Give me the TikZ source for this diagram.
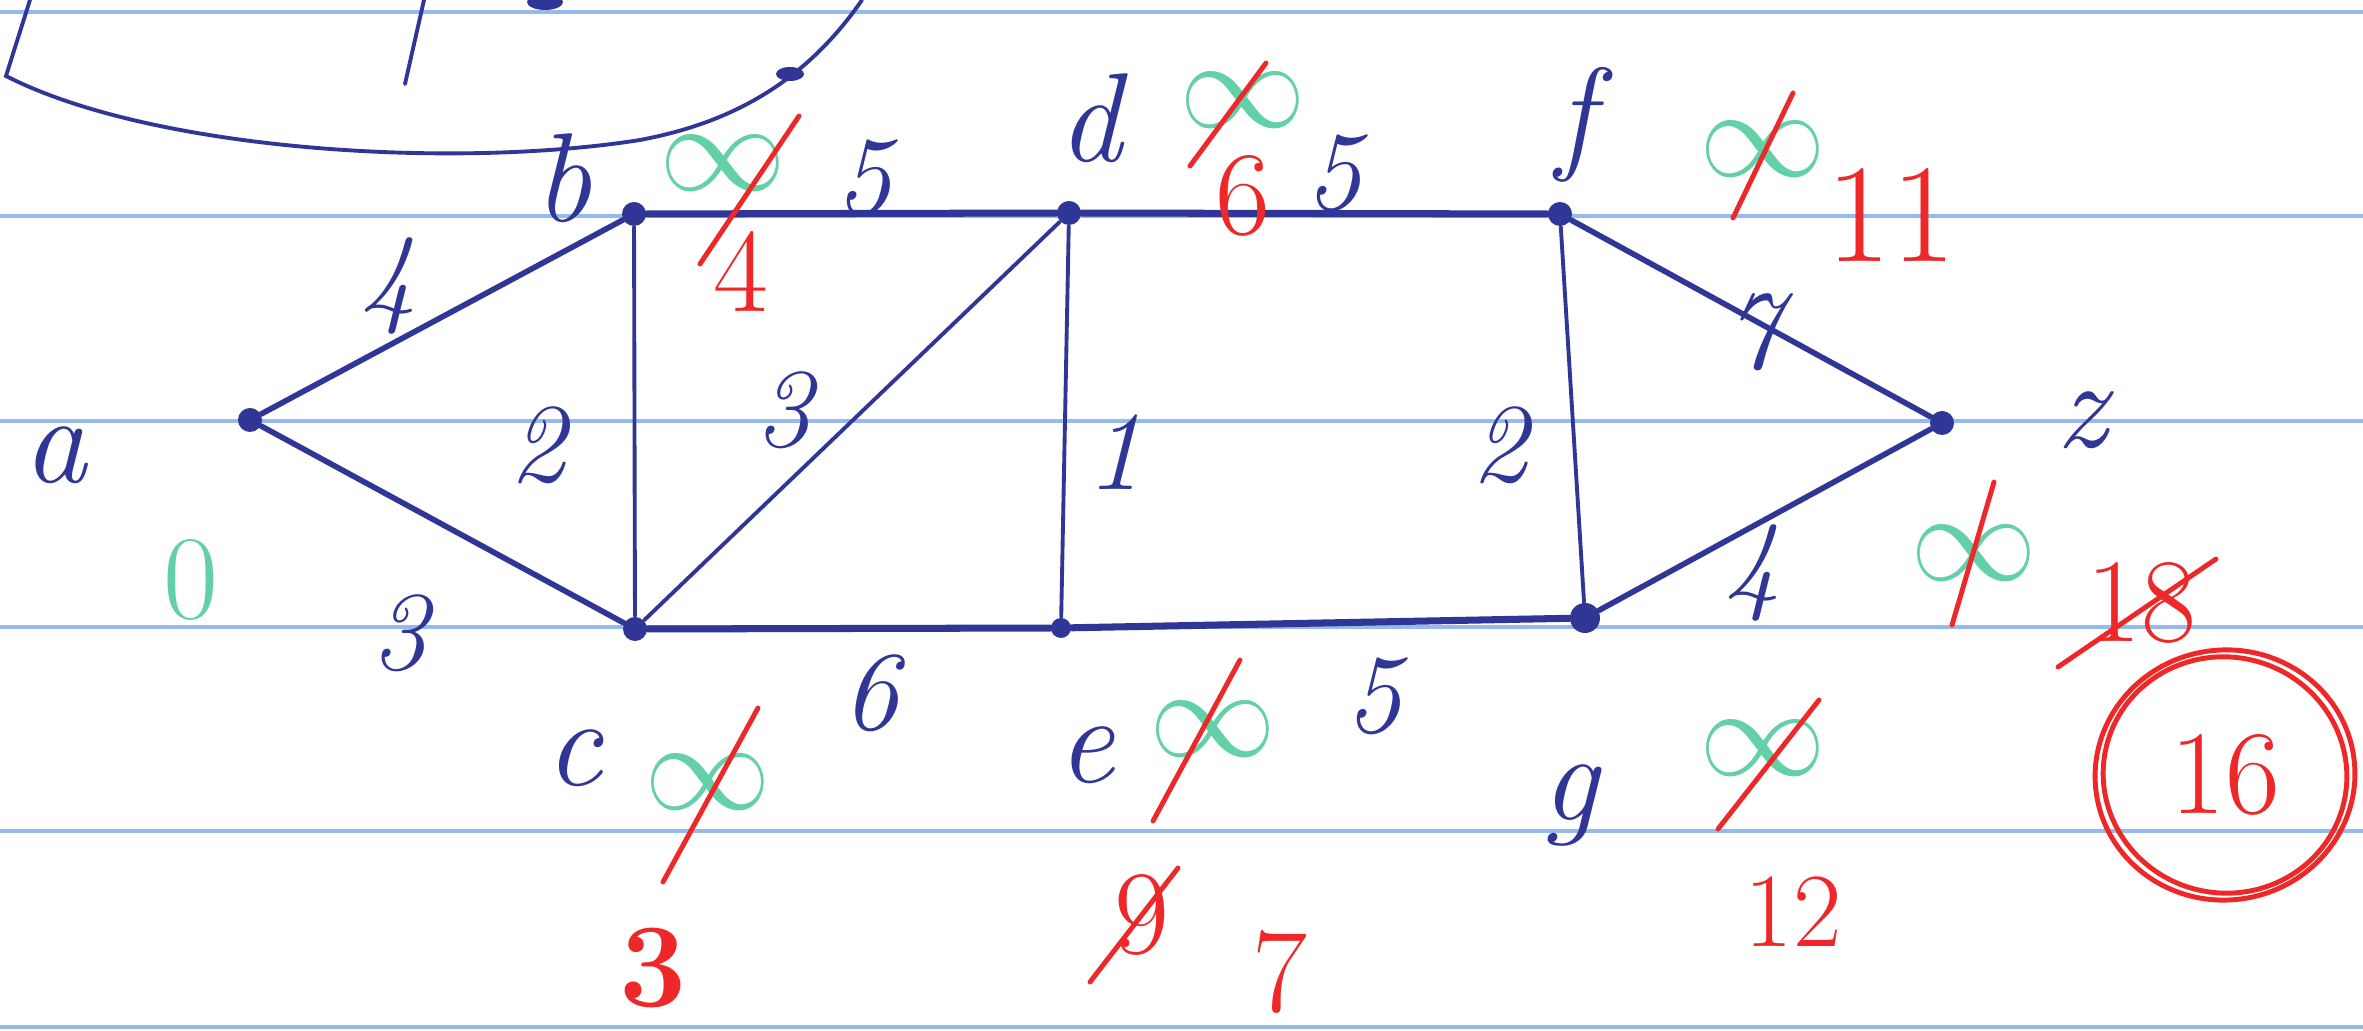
\documentclass[tikz,border=0pt]{standalone}
\usepackage{tikz}
\usetikzlibrary{positioning, calc}
\definecolor{inkBlue}{RGB}{48,54,150}
\definecolor{markGreen}{RGB}{100,208,168}
\definecolor{markRed}{RGB}{238,40,40}
\definecolor{ruleBlue}{RGB}{150,185,238}

\begin{document}
\begin{tikzpicture}[x=0.01cm, y=-0.01cm,
    vtx/.style={circle, fill=inkBlue, inner sep=0pt, minimum size=0.24cm},
    edge/.style={draw=inkBlue, line width=1.6pt, line cap=round},
    thinedge/.style={edge, line width=1.1pt},
    vname/.style={text=inkBlue, inner sep=0pt, font=\fontsize{36}{40}\selectfont\itshape},
    wt/.style={text=inkBlue, inner sep=0pt, font=\fontsize{32}{36}\selectfont\itshape},
    inf/.style={text=markGreen, inner sep=0pt, font=\Huge, scale=1.45},
    dist/.style={text=markRed, inner sep=0pt, font=\fontsize{34}{38}\selectfont},
    strike/.style={draw=markRed, line width=1.4pt, line cap=round},
    rule/.style={draw=ruleBlue, line width=1.3pt}
  ]
  \useasboundingbox[fill=white] (0,0) rectangle (2363,1031);

  % ruled paper
  \foreach \y in {12,216,421,627,831,1027}
    \draw[rule] (0,\y) -- (2363,\y);

  % left-over curve from the previous exercise
  \draw[thinedge] (30,0) -- (6,76) .. controls (150,150) and (450,170) .. (640,140)
    .. controls (720,125) and (800,90) .. (862,0);
  \draw[thinedge] (424,0) -- (405,84);
  \fill[inkBlue] (545,2) ellipse (18 and 8);
  \fill[inkBlue] (790,74) ellipse (14 and 7);

  % vertices
  \node[vtx] (a) at (250,420) {};
  \node[vtx] (b) at (634,214) {};
  \node[vtx] (c) at (635,629) {};
  \node[vtx] (d) at (1069,213) {};
  \node[vtx, minimum size=0.2cm] (e) at (1061,628) {};
  \node[vtx] (f) at (1560,214) {};
  \node[vtx, minimum size=0.3cm] (g) at (1585,618) {};
  \node[vtx] (z) at (1942,423) {};

  % edges
  \draw[edge] (a) -- (b);
  \draw[edge] (a) -- (c);
  \draw[thinedge] (b) -- (c);
  \draw[edge, line width=2pt] (b) -- (d);
  \draw[thinedge] (c) -- (d);
  \draw[thinedge] (d) -- (e);
  \draw[edge, line width=2pt] (c) -- (e);
  \draw[edge, line width=2pt] (d) -- (f);
  \draw[edge, line width=2pt] (e) -- (g);
  \draw[thinedge] (f) -- (g);
  \draw[edge] (f) -- (z);
  \draw[edge] (g) -- (z);

  % vertex names
  \node[vname] (na) at (55,455) {a};
  \node[vname] (nb) at (563,178) {b};
  \node[vname] (nc) at (574,758) {c};
  \node[vname] (nd) at (1090,118) {d};
  \node[vname] (ne) at (1086,755) {e};
  \node[vname] (nf) at (1575,125) {f};
  \node[vname] (ng) at (1570,805) {g};
  \node[vname] (nz) at (2082,420) {z};

  % weights
  \node[wt] (wab) at (389,286) {4};
  \node[wt] (wac) at (400,633) {3};
  \node[wt] (wbc) at (538,445) {2};
  \node[wt] (wbd) at (864,178) {5};
  \node[wt] (wcd) at (784,410) {3};
  \node[wt] (wde) at (1115,452) {1};
  \node[wt] (wce) at (871,693) {6};
  \node[wt] (wdf) at (1334,173) {5};
  \node[wt] (weg) at (1374,696) {5};
  \node[wt] (wfg) at (1500,445) {2};
  \node[wt] (wfz) at (1753,332) {7};
  \node[wt] (wgz) at (1753,573) {4};

  % labels: start values
  \node[text=markGreen, font=\fontsize{34}{38}\selectfont] (la) at (191,580) {0};
  \node[inf] (ib) at (723,163) {$\infty$};
  \node[inf] (ic) at (708,782) {$\infty$};
  \node[inf] (id) at (1243,100) {$\infty$};
  \node[inf] (ie) at (1213,729) {$\infty$};
  \node[inf] (if) at (1763,149) {$\infty$};
  \node[inf] (ig) at (1763,748) {$\infty$};
  \node[inf] (iz) at (1974,553) {$\infty$};

  % crossed out
  \draw[strike] (700,264) -- (799,116);
  \draw[strike] (663,882) -- (758,708);
  \draw[strike] (1190,166) -- (1266,63);
  \draw[strike] (1153,821) -- (1240,660);
  \draw[strike] (1733,218) -- (1793,93);
  \draw[strike] (1718,829) -- (1819,700);
  \draw[strike] (1952,625) -- (1994,482);

  % new values
  \node[dist] (lb) at (741,272) {4};
  \node[dist, font=\fontsize{34}{38}\selectfont\bfseries] (lc) at (653,968) {3};
  \node[dist] (ld) at (1243,196) {6};
  \node[dist] (le1) at (1142,915) {9};
  \draw[strike] (1090,982) -- (1178,868);
  \node[dist] (le) at (1280,972) {7};
  \node[dist, font=\fontsize{40}{44}\selectfont] (lf) at (1891,215) {11};
  \node[dist, font=\fontsize{30}{34}\selectfont] (lg) at (1793,912) {12};
  \node[dist] (lz1) at (2141,603) {18};
  \draw[strike] (2058,667) -- (2216,559);
  \node[dist] (lz) at (2225,775) {16};
  \draw[strike] (lz.center) ellipse [x radius=130, y radius=125, rotate=8];
  \draw[strike] (lz.center) ellipse [x radius=122, y radius=118, rotate=-12];
\end{tikzpicture}
\end{document}
